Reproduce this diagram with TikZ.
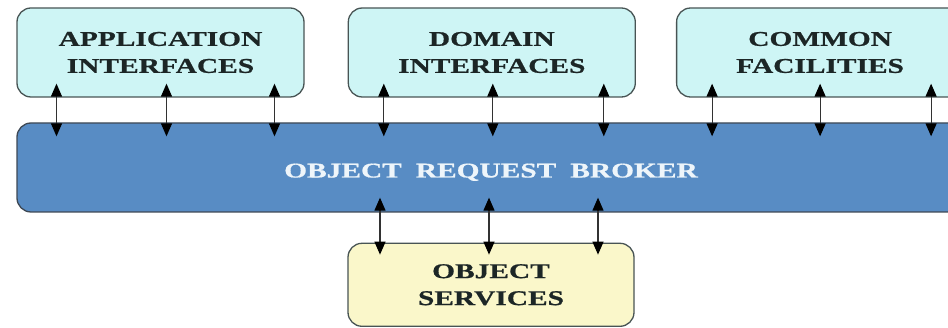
\documentclass[tikz,border=0pt]{standalone}
\usepackage{fontspec}
\newfontfamily\boxfont[FakeStretch=1.4, FakeBold=0.8]{Liberation Serif Bold}
\usetikzlibrary{arrows.meta,positioning}
\definecolor{ifacefill}{RGB}{206,245,245}
\definecolor{boxline}{RGB}{72,84,84}
\definecolor{orbfill}{RGB}{88,140,196}
\definecolor{orbline}{RGB}{62,72,84}
\definecolor{srvfill}{RGB}{250,247,202}
\definecolor{darktext}{RGB}{28,38,38}
\definecolor{arrowgray}{RGB}{50,50,50}

\begin{document}
\begin{tikzpicture}[x=1pt, y=-1pt, >={Triangle[length=13pt,width=11pt,color=black]},
  iface/.style={draw=boxline, line width=1.3pt, rounded corners=14pt, fill=ifacefill,
    minimum width=287pt, minimum height=89pt, inner sep=0pt, align=center, text=darktext,
    font=\boxfont\fontsize{21}{27}\selectfont},
  broker/.style={draw=orbline, line width=1.3pt, rounded corners=14pt, fill=orbfill,
    minimum width=948pt, minimum height=89pt, inner sep=0pt, text height=20pt, text depth=0pt,
    text={rgb,255:red,238;green,245;blue,250},
    font=\boxfont\fontsize{21}{25}\selectfont},
  services/.style={iface, fill=srvfill, minimum width=286pt, minimum height=83pt},
  link/.style={<->, draw=arrowgray, line width=1.2pt}]
  \useasboundingbox (0,0) rectangle (948,328);
  \clip (0,0) rectangle (948,328);

  \node[iface] (app) at (160.5,52.5) {APPLICATION\\INTERFACES};
  \node[iface] (dom) [right=43pt of app] {DOMAIN\\INTERFACES};
  \node[iface] (com) [right=40pt of dom] {COMMON\\FACILITIES};
  \node[broker] (orb) at (491,167.5) {OBJECT\hskip 14pt REQUEST\hskip 14pt BROKER};
  \node[services] (srv) [below=30pt of orb] {OBJECT\\SERVICES};

  % interfaces <-> broker
  \foreach \b/\dx in {app/-104, app/6, app/114, dom/-108, dom/1, dom/112, com/-108, com/0, com/111}
    \draw[link, shorten <=-14pt, shorten >=-14pt] ([xshift=\dx pt]\b.south) -- ([xshift=\dx pt]\b.south |- orb.north);

  % broker <-> services
  \foreach \dx in {-111, -2, 107}
    \draw[link, shorten <=-15pt, shorten >=-12pt] ([xshift=\dx pt]srv.north |- orb.south) -- ([xshift=\dx pt]srv.north);
\end{tikzpicture}
\end{document}
